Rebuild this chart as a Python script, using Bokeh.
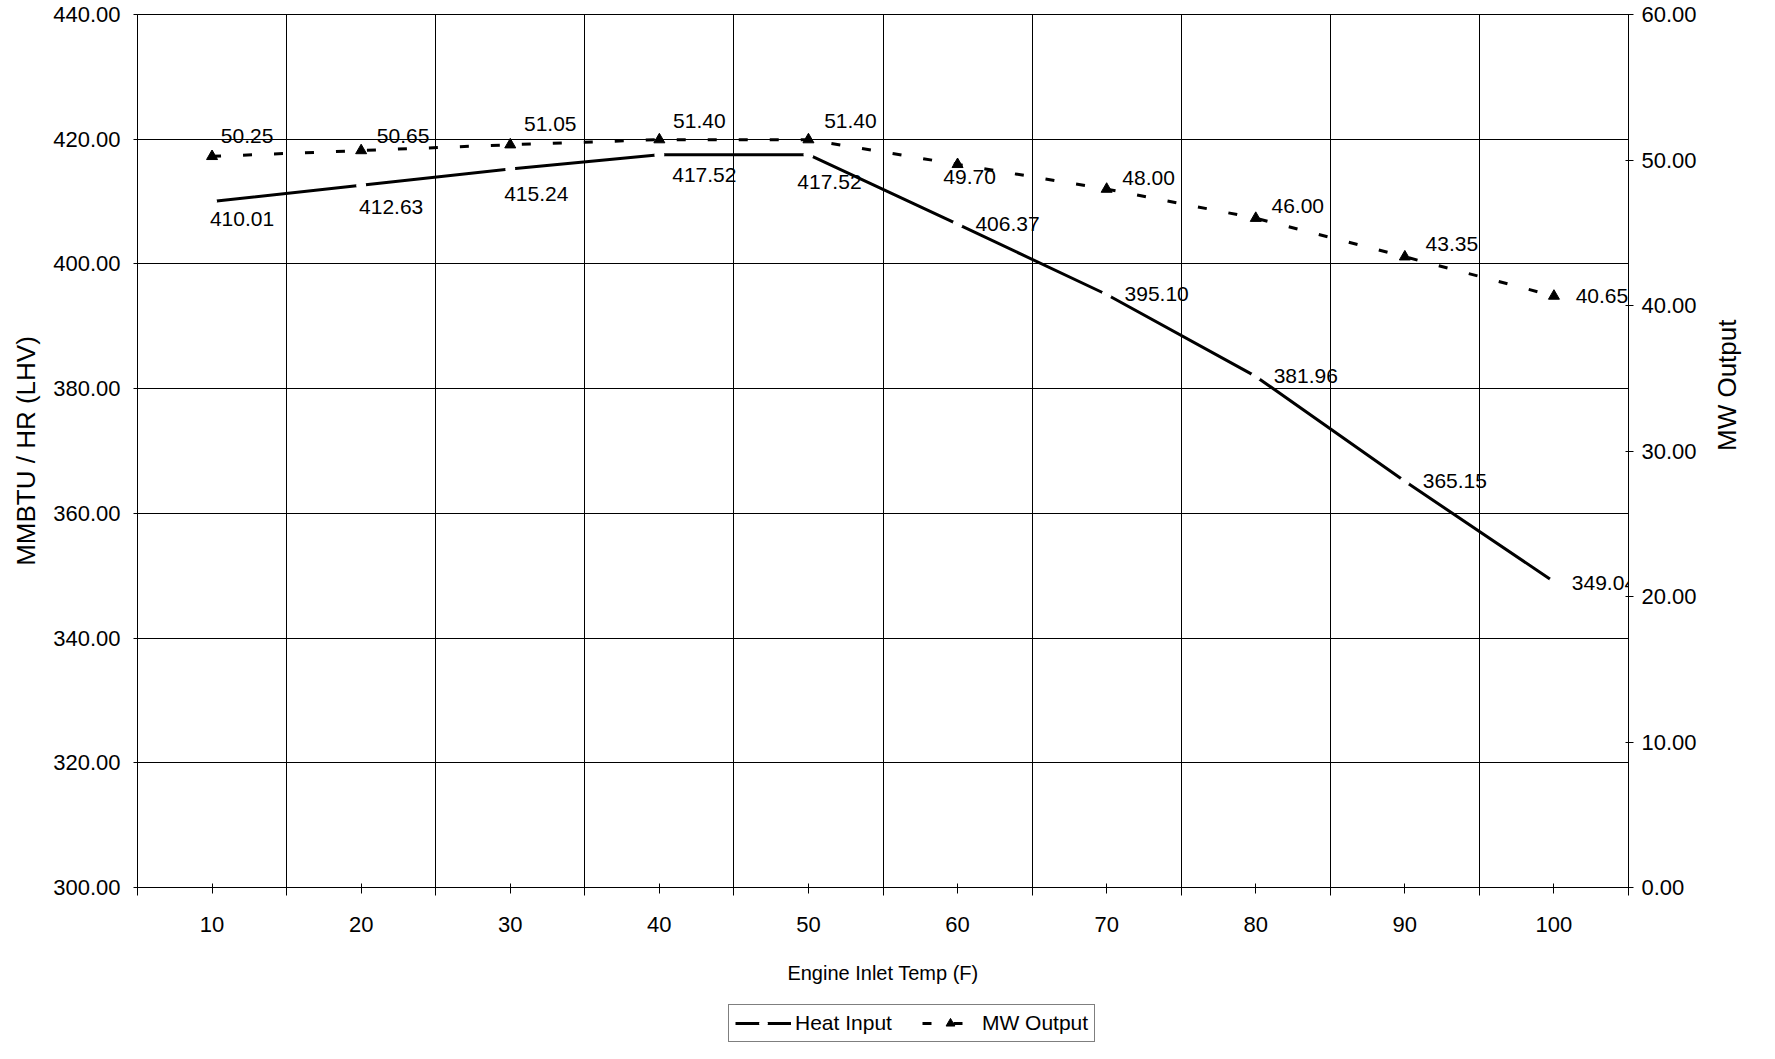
import math
from bokeh.plotting import figure
from bokeh.layouts import column
from bokeh.models import (ColumnDataSource, Range1d, LinearAxis, FixedTicker,
                          PrintfTickFormatter, Legend, LegendItem)
from bokeh.core.properties import value
from bokeh.embed import file_html
from bokeh.resources import INLINE

# ---------------- data ----------------
temps = [10, 20, 30, 40, 50, 60, 70, 80, 90, 100]
heat_input = [410.01, 412.63, 415.24, 417.52, 417.52, 406.37, 395.10, 381.96, 365.15, 349.04]
mw_output = [50.25, 50.65, 51.05, 51.40, 51.40, 49.70, 48.00, 46.00, 43.35, 40.65]
heat_text = ["410.01", "412.63", "415.24", "417.52", "417.52", "406.37", "395.10", "381.96", "365.15", "349.04"]
mw_text = ["50.25", "50.65", "51.05", "51.40", "51.40", "49.70", "48.00", "46.00", "43.35", "40.65"]
left_ticks = [300, 320, 340, 360, 380, 400, 420, 440]
right_ticks = [0, 10, 20, 30, 40, 50, 60]
series_names = ["Heat Input", "MW Output"]

# ---------------- label placement (screen px, style only) ----------------
heat_dx = [30, 30, 26, 45, 21, 50, 50, 50, 50, 50]
heat_dy = [17, 22, 25, 20, 27, 0, 0, 0, 0, 1]
mw_dx = [35, 42, 40, 40, 42, 12, 42, 42, 47, 48]
mw_dy = [-20, -15, -21, -19, -19, 13, -11, -12, -13, 0]

FONT = "Liberation Sans"
category_edges = [t - 5 for t in temps] + [temps[-1] + 5]

W = 1759
MAIN_H = 1000
LEG_H = 43

p = figure(width=W, height=MAIN_H,
           x_range=Range1d(category_edges[0], category_edges[-1]),
           y_range=Range1d(left_ticks[0], left_ticks[-1]),
           output_backend="svg", toolbar_location=None,
           min_border_left=137, min_border_right=128,
           min_border_top=14, min_border_bottom=113,
           background_fill_color="white", border_fill_color="white")
p.extra_y_ranges = {"mw": Range1d(right_ticks[0], right_ticks[-1])}
p.outline_line_color = "black"
p.outline_line_width = 1

# grids
p.xgrid.ticker = FixedTicker(ticks=category_edges)
p.ygrid.ticker = FixedTicker(ticks=left_ticks)
for g in (p.xgrid, p.ygrid):
    g.grid_line_color = "black"
    g.grid_line_width = 1
    g.grid_line_alpha = 1.0

# x axis
xa = p.xaxis[0]
xa.ticker = FixedTicker(ticks=temps, minor_ticks=category_edges)
xa.axis_label = "Engine Inlet Temp (F)"
xa.major_tick_in = 4
xa.major_tick_out = 6
xa.minor_tick_in = 0
xa.minor_tick_out = 8
xa.minor_tick_line_color = "black"
xa.major_label_standoff = 21
xa.axis_label_standoff = 27
xa.axis_label_text_font_size = "20px"

# left axis
ya = p.yaxis[0]
ya.ticker = FixedTicker(ticks=left_ticks)
ya.formatter = PrintfTickFormatter(format="%.2f")
ya.axis_label = "MMBTU / HR (LHV)"
ya.major_tick_in = 0
ya.major_tick_out = 4
ya.minor_tick_line_color = None
ya.major_label_standoff = 13
ya.axis_label_standoff = 9
ya.axis_label_text_font_size = "26px"

# right axis
ra = LinearAxis(y_range_name="mw", ticker=FixedTicker(ticks=right_ticks),
                formatter=PrintfTickFormatter(format="%.2f"),
                axis_label="MW Output")
ra.major_tick_in = 3
ra.major_tick_out = 5
ra.minor_tick_line_color = None
ra.major_label_standoff = 8
ra.axis_label_standoff = 27
ra.axis_label_text_font_size = "26px"
try:
    ra.axis_label_orientation = math.pi / 2
except Exception:
    pass
p.add_layout(ra, "right")

for ax in (xa, ya, ra):
    ax.axis_line_color = "black"
    ax.major_tick_line_color = "black"
    ax.major_label_text_font = FONT
    ax.major_label_text_font_size = "22px"
    ax.major_label_text_color = "black"
    ax.axis_label_text_font = FONT
    ax.axis_label_text_font_style = "normal"
    ax.axis_label_text_color = "black"

# ---------------- series ----------------
heat_src = ColumnDataSource(dict(x=temps, y=heat_input, t=heat_text, dx=heat_dx, dy=heat_dy))
mw_src = ColumnDataSource(dict(x=temps, y=mw_output, t=mw_text, dx=mw_dx, dy=mw_dy))

HEAT_LINE = dict(line_color="black", line_width=3)
HEAT_GAP = dict(marker="circle", size=10, fill_color="white", line_color=None)
MW_LINE = dict(line_color="black", line_width=3, line_dash="9 22")
MW_PTS = dict(marker="triangle", size=11, fill_color="black", line_color="black")

p.line("x", "y", source=heat_src, **HEAT_LINE)
p.scatter("x", "y", source=heat_src, **HEAT_GAP)
p.line("x", "y", source=mw_src, y_range_name="mw", **MW_LINE)
p.scatter("x", "y", source=mw_src, y_range_name="mw", **MW_PTS)

p.text("x", "y", text="t", source=heat_src, x_offset="dx", y_offset="dy",
       text_font=value(FONT), text_font_size="21px", text_color="black",
       text_align="center", text_baseline="middle")
p.text("x", "y", text="t", source=mw_src, y_range_name="mw", x_offset="dx", y_offset="dy",
       text_font=value(FONT), text_font_size="21px", text_color="black",
       text_align="center", text_baseline="middle")

# ---------------- legend strip (same series, outside its view range) ----------------
lg = figure(width=W, height=LEG_H, x_range=Range1d(0, 1), y_range=Range1d(0, 1),
            x_axis_type=None, y_axis_type=None,
            output_backend="svg", toolbar_location=None,
            min_border=0, outline_line_color=None,
            background_fill_color="white", border_fill_color="white")
lg.xgrid.visible = False
lg.ygrid.visible = False
l1 = lg.line("x", "y", source=heat_src, **HEAT_LINE)
g1 = lg.scatter("x", "y", source=heat_src, **HEAT_GAP)
l2 = lg.line("x", "y", source=mw_src, **MW_LINE)
g2 = lg.scatter("x", "y", source=mw_src, **MW_PTS)

legend = Legend(items=[LegendItem(label=series_names[0], renderers=[l1, g1]),
                       LegendItem(label=series_names[1], renderers=[l2, g2])],
                orientation="horizontal", location=(591, 1),
                border_line_color="black", border_line_width=1,
                background_fill_color="white", background_fill_alpha=1.0,
                label_text_font=FONT, label_text_font_size="21px",
                label_text_color="black",
                glyph_width=56, glyph_height=22, spacing=30, padding=6,
                margin=0, label_standoff=4)
lg.add_layout(legend)

layout = column(p, lg, spacing=0)
open("out.html", "w").write(file_html(layout, INLINE))
